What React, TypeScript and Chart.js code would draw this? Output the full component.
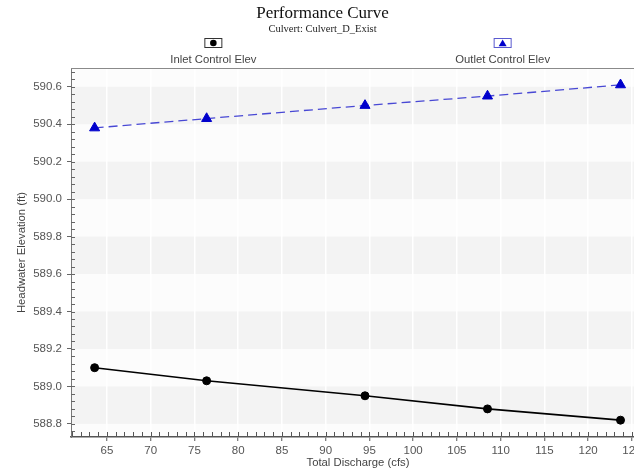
import React, { useEffect, useRef } from "react";
import { Chart, registerables } from "chart.js";

Chart.register(...registerables);

// ---- data ----
const discharge = [63.6, 76.4, 94.5, 108.5, 123.7];
const inletElev = [589.1, 589.03, 588.95, 588.88, 588.82];
const outletElev = [590.38, 590.43, 590.5, 590.55, 590.61];
const seriesNames = ["Inlet Control Elev", "Outlet Control Elev"];
const xTicks = [65, 70, 75, 80, 85, 90, 95, 100, 105, 110, 115, 120, 125];
const yTicks = [588.8, 589.0, 589.2, 589.4, 589.6, 589.8, 590.0, 590.2, 590.4, 590.6];
const titleText = "Performance Curve";
const subtitleText = "Culvert: Culvert_D_Exist";
const xTitle = "Total Discharge (cfs)";
const yTitle = "Headwater Elevation (ft)";
const xRange = [60.9, 126.5];
const yRange = [588.73, 590.7];
const xMinorStep = 1;
const yMinorStep = 0.04;

const SANS = "'Liberation Sans', Arial, sans-serif";
const SERIF = "'Liberation Serif', 'Times New Roman', serif";

const decorPlugin = {
  id: "decor",
  beforeDraw(chart: any) {
    const { ctx, chartArea: a, scales } = chart;
    const y = scales.y;
    ctx.save();
    ctx.fillStyle = "#fcfcfc";
    ctx.fillRect(a.left, a.top, a.right - a.left, a.bottom - a.top);
    ctx.fillStyle = "#f3f3f3";
    for (let i = 0; i < yTicks.length - 1; i += 2) {
      const p0 = y.getPixelForValue(yTicks[i]);
      const p1 = y.getPixelForValue(yTicks[i + 1]);
      ctx.fillRect(a.left, p1, a.right - a.left, p0 - p1);
    }
    ctx.restore();
  },
  afterDraw(chart: any) {
    const { ctx, chartArea: a, scales } = chart;
    const x = scales.x;
    const y = scales.y;
    ctx.save();
    // top frame line
    ctx.strokeStyle = "#8a8a8a";
    ctx.lineWidth = 1;
    ctx.beginPath();
    ctx.moveTo(a.left, a.top + 0.5);
    ctx.lineTo(a.right, a.top + 0.5);
    ctx.stroke();

    // minor / inner ticks on x
    ctx.strokeStyle = "#555";
    ctx.lineWidth = 1;
    ctx.beginPath();
    const xs = Math.ceil(xRange[0] / xMinorStep);
    const xe = Math.floor(xRange[1] / xMinorStep);
    for (let k = xs; k <= xe; k++) {
      const v = k * xMinorStep;
      const px = Math.round(x.getPixelForValue(v)) + 0.5;
      ctx.moveTo(px, a.bottom);
      ctx.lineTo(px, a.bottom - 5);
    }
    ctx.stroke();

    // minor / inner ticks on y
    ctx.strokeStyle = "#666";
    ctx.beginPath();
    const ys = Math.ceil(yRange[0] / yMinorStep - 1e-6);
    const ye = Math.floor(yRange[1] / yMinorStep + 1e-6);
    for (let k = ys; k <= ye; k++) {
      const v = k * yMinorStep;
      const py = Math.round(y.getPixelForValue(v)) + 0.5;
      ctx.moveTo(a.left, py);
      ctx.lineTo(a.left + 4, py);
    }
    ctx.stroke();

    // custom legend: symbol box above text
    const ds = chart.data.datasets;
    const w = a.right - a.left;
    const centers = [a.left + 0.248 * w, a.left + 0.752 * w];
    ds.forEach((d: any, i: number) => {
      const cx = centers[i];
      const cy = 43;
      ctx.fillStyle = "#ffffff";
      ctx.fillRect(cx - 9, cy - 5, 18, 10);
      ctx.strokeStyle = i === 0 ? "#333" : "#5a5ad0";
      ctx.lineWidth = 1;
      ctx.strokeRect(cx - 9 + 0.5, cy - 5 + 0.5, 17, 9);
      ctx.fillStyle = d.pointBackgroundColor;
      ctx.beginPath();
      if (d.pointStyle === "triangle") {
        const r = 4.6;
        ctx.moveTo(cx, cy + 1 - r);
        ctx.lineTo(cx + r * 0.866, cy + 1 + r * 0.5);
        ctx.lineTo(cx - r * 0.866, cy + 1 + r * 0.5);
        ctx.closePath();
      } else {
        ctx.arc(cx, cy, 3.3, 0, Math.PI * 2);
      }
      ctx.fill();
      ctx.fillStyle = "#444";
      ctx.font = `11.3px ${SANS}`;
      ctx.textAlign = "center";
      ctx.textBaseline = "middle";
      ctx.fillText(d.label, cx, 59.5);
    });
    ctx.restore();
  },
};

export default function App() {
  const ref = useRef<HTMLCanvasElement | null>(null);

  useEffect(() => {
    if (!ref.current) return;
    const chart = new Chart(ref.current, {
      type: "line",
      data: {
        datasets: [
          {
            label: seriesNames[0],
            data: discharge.map((q, i) => ({ x: q, y: inletElev[i] })),
            borderColor: "#000000",
            backgroundColor: "#000000",
            borderWidth: 1.6,
            pointStyle: "circle",
            pointRadius: 4,
            pointBackgroundColor: "#000000",
            pointBorderColor: "#000000",
            pointBorderWidth: 1,
          },
          {
            label: seriesNames[1],
            data: discharge.map((q, i) => ({ x: q, y: outletElev[i] })),
            borderColor: "#4848d4",
            backgroundColor: "#0000cc",
            borderWidth: 1.3,
            borderDash: [9, 5],
            pointStyle: "triangle",
            pointRadius: 5.8,
            pointBackgroundColor: "#0000cc",
            pointBorderColor: "#0000cc",
            pointBorderWidth: 1,
          },
        ],
      },
      options: {
        responsive: false,
        animation: false,
        layout: { padding: { left: 0, right: 45, top: 0, bottom: 0 } },
        plugins: {
          legend: { display: false },
          tooltip: { enabled: false },
          title: {
            display: true,
            text: titleText,
            color: "#111",
            font: { family: SERIF, size: 17, weight: "normal" },
            padding: { top: 3, bottom: 0 },
          },
          subtitle: {
            display: true,
            text: subtitleText,
            color: "#222",
            font: { family: SERIF, size: 10.5, weight: "normal" },
            padding: { top: 0, bottom: 32 },
          },
        },
        scales: {
          x: {
            type: "linear",
            min: xRange[0],
            max: xRange[1],
            afterBuildTicks: (s: any) => {
              s.ticks = xTicks.map((v) => ({ value: v }));
            },
            afterFit: (s: any) => {
              s.height = 38;
            },
            ticks: {
              color: "#555",
              font: { family: SANS, size: 11.5 },
              padding: 3,
              maxRotation: 0,
              autoSkip: false,
              callback: (v: any) => String(v),
            },
            grid: {
              color: "#ffffff",
              lineWidth: 1.5,
              drawTicks: true,
              tickLength: 4,
              tickColor: "#555",
              tickWidth: 1,
            },
            border: { display: true, color: "#555", width: 1.6 },
            title: {
              display: true,
              text: xTitle,
              color: "#444",
              font: { family: SANS, size: 11.3 },
              padding: { top: 0, bottom: 5 },
            },
          },
          y: {
            type: "linear",
            min: yRange[0],
            max: yRange[1],
            afterBuildTicks: (s: any) => {
              s.ticks = yTicks.map((v) => ({ value: v }));
            },
            afterFit: (s: any) => {
              s.width = 71;
            },
            ticks: {
              color: "#555",
              font: { family: SANS, size: 11.5 },
              padding: 5,
              autoSkip: false,
              callback: (v: any) => Number(v).toFixed(1),
            },
            grid: {
              drawOnChartArea: false,
              drawTicks: true,
              tickLength: 4,
              tickColor: "#666",
            },
            border: { display: true, color: "#777", width: 1 },
            title: {
              display: true,
              text: yTitle,
              color: "#444",
              font: { family: SANS, size: 11.3 },
              padding: { top: 15, bottom: 0 },
            },
          },
        },
      },
      plugins: [decorPlugin],
    } as any);
    return () => chart.destroy();
  }, []);

  return (
    <div
      style={{
        position: "fixed",
        left: 0,
        top: 0,
        width: 634,
        height: 475,
        overflow: "hidden",
        background: "#ffffff",
      }}
    >
      <canvas ref={ref} width={690} height={475} style={{ display: "block" }} />
    </div>
  );
}
